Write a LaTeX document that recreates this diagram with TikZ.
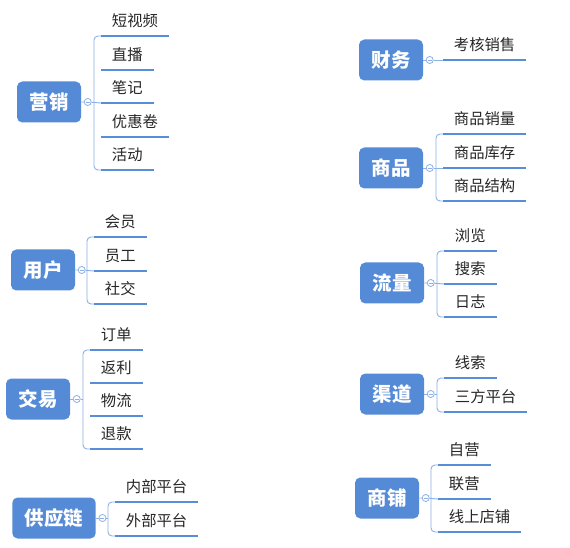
\documentclass[tikz,border=0pt]{standalone}
\usepackage{fontspec}
\setmainfont{Noto Sans CJK SC}
\usetikzlibrary{positioning}
\definecolor{boxblue}{RGB}{85,139,214}
\definecolor{ulblue}{RGB}{88,141,216}
\definecolor{brkblue}{RGB}{140,177,230}

\begin{document}
\begin{tikzpicture}[x=0.75pt,y=-0.75pt,
  topic/.style={fill=boxblue,rounded corners=4pt,text=white,inner xsep=9.4pt,minimum height=30.75pt,
    font=\bfseries\fontsize{14.6}{16}\selectfont},
  knob/.style={circle,draw=brkblue,fill=white,line width=0.6pt,minimum size=5.3pt,inner sep=0pt,
    path picture={\draw[brkblue,line width=0.5pt]([xshift=-1.5pt]path picture bounding box.center)--([xshift=1.5pt]path picture bounding box.center);}},
  leaf/.style={anchor=south west,inner xsep=8pt,inner ysep=4pt,text height=9pt,text depth=3pt,
    text=black!85,font=\fontsize{11.5}{13}\selectfont},
  uline/.style={draw=ulblue,line width=2pt},
  brk/.style={draw=brkblue,line width=0.7pt,rounded corners=3pt}]
 \useasboundingbox (0,0) rectangle (570,548);
 % 营销
 \node[topic] (yx) at (49,102) {营销};
 \node[knob,right=1.9pt of yx] (yxk) {};
 \node[leaf] (yx1) at (101,36) {短视频};
 \node[leaf] (yx2) at (101,70) {直播};
 \node[leaf] (yx3) at (101,103) {笔记};
 \node[leaf] (yx4) at (101,137) {优惠卷};
 \node[leaf] (yx5) at (101,170) {活动};
 \draw[brk] (yx1.south west) -- ++(-7,0) |- (yx5.south west);
 \draw[brk] (yx) -- (yxk) (yxk) -- (yx3.south west);
 \draw[uline] (yx1.south west) -- (yx1.south east);
 \draw[uline] (yx2.south west) -- (yx2.south east);
 \draw[uline] (yx3.south west) -- (yx3.south east);
 \draw[uline] (yx4.south west) -- (yx4.south east);
 \draw[uline] (yx5.south west) -- (yx5.south east);
 % 用户
 \node[topic] (yh) at (43,270) {用户};
 \node[knob,right=1.9pt of yh] (yhk) {};
 \node[leaf] (yh1) at (94,237) {会员};
 \node[leaf] (yh2) at (94,271) {员工};
 \node[leaf] (yh3) at (94,304) {社交};
 \draw[brk] (yh1.south west) -- ++(-7,0) |- (yh3.south west);
 \draw[brk] (yh) -- (yhk) (yhk) -- (yh2.south west);
 \draw[uline] (yh1.south west) -- (yh1.south east);
 \draw[uline] (yh2.south west) -- (yh2.south east);
 \draw[uline] (yh3.south west) -- (yh3.south east);
 % 交易
 \node[topic] (jy) at (38,399) {交易};
 \node[knob,right=1.9pt of jy] (jyk) {};
 \node[leaf] (jy1) at (90,350) {订单};
 \node[leaf] (jy2) at (90,383) {返利};
 \node[leaf] (jy3) at (90,416) {物流};
 \node[leaf] (jy4) at (90,449) {退款};
 \draw[brk] (jy1.south west) -- ++(-7,0) coordinate (jyb) |- (jy4.south west);
 \draw[brk] (jy) -- (jyk) (jyk) -- (jyk -| jyb);
 \draw[uline] (jy1.south west) -- (jy1.south east);
 \draw[uline] (jy2.south west) -- (jy2.south east);
 \draw[uline] (jy3.south west) -- (jy3.south east);
 \draw[uline] (jy4.south west) -- (jy4.south east);
 % 供应链
 \node[topic] (gy) at (54,518) {供应链};
 \node[knob,right=1.9pt of gy] (gyk) {};
 \node[leaf] (gy1) at (115,502) {内部平台};
 \node[leaf] (gy2) at (115,536) {外部平台};
 \draw[brk] (gy1.south west) -- ++(-7,0) coordinate (gyb) |- (gy2.south west);
 \draw[brk] (gy) -- (gyk) (gyk) -- (gyk -| gyb);
 \draw[uline] (gy1.south west) -- (gy1.south east);
 \draw[uline] (gy2.south west) -- (gy2.south east);
 % 财务
 \node[topic] (cw) at (391,60) {财务};
 \node[knob,right=1.9pt of cw] (cwk) {};
 \node[leaf] (cw1) at (443,60) {考核销售};
 \draw[brk] (cw) -- (cwk) (cwk) -- (cw1.south west);
 \draw[uline] (cw1.south west) -- (cw1.south east);
 % 商品
 \node[topic] (sp) at (391,168) {商品};
 \node[knob,right=1.9pt of sp] (spk) {};
 \node[leaf] (sp1) at (443,134) {商品销量};
 \node[leaf] (sp2) at (443,168) {商品库存};
 \node[leaf] (sp3) at (443,201) {商品结构};
 \draw[brk] (sp1.south west) -- ++(-7,0) |- (sp3.south west);
 \draw[brk] (sp) -- (spk) (spk) -- (sp2.south west);
 \draw[uline] (sp1.south west) -- (sp1.south east);
 \draw[uline] (sp2.south west) -- (sp2.south east);
 \draw[uline] (sp3.south west) -- (sp3.south east);
 % 流量
 \node[topic] (ll) at (392,283) {流量};
 \node[knob,right=1.9pt of ll] (llk) {};
 \node[leaf] (ll1) at (444,251) {浏览};
 \node[leaf] (ll2) at (444,284) {搜索};
 \node[leaf] (ll3) at (444,317) {日志};
 \draw[brk] (ll1.south west) -- ++(-7,0) |- (ll3.south west);
 \draw[brk] (ll) -- (llk) (llk) -- (ll2.south west);
 \draw[uline] (ll1.south west) -- (ll1.south east);
 \draw[uline] (ll2.south west) -- (ll2.south east);
 \draw[uline] (ll3.south west) -- (ll3.south east);
 % 渠道
 \node[topic] (qd) at (392,394) {渠道};
 \node[knob,right=1.9pt of qd] (qdk) {};
 \node[leaf] (qd1) at (444,378) {线索};
 \node[leaf] (qd2) at (444,412) {三方平台};
 \draw[brk] (qd1.south west) -- ++(-7,0) coordinate (qdb) |- (qd2.south west);
 \draw[brk] (qd) -- (qdk) (qdk) -- (qdk -| qdb);
 \draw[uline] (qd1.south west) -- (qd1.south east);
 \draw[uline] (qd2.south west) -- (qd2.south east);
 % 商铺
 \node[topic] (pu) at (387,498) {商铺};
 \node[knob,right=1.9pt of pu] (puk) {};
 \node[leaf] (pu1) at (438,465) {自营};
 \node[leaf] (pu2) at (438,499) {联营};
 \node[leaf] (pu3) at (438,532) {线上店铺};
 \draw[brk] (pu1.south west) -- ++(-7,0) |- (pu3.south west);
 \draw[brk] (pu) -- (puk) (puk) -- (pu2.south west);
 \draw[uline] (pu1.south west) -- (pu1.south east);
 \draw[uline] (pu2.south west) -- (pu2.south east);
 \draw[uline] (pu3.south west) -- (pu3.south east);
\end{tikzpicture}
\end{document}
